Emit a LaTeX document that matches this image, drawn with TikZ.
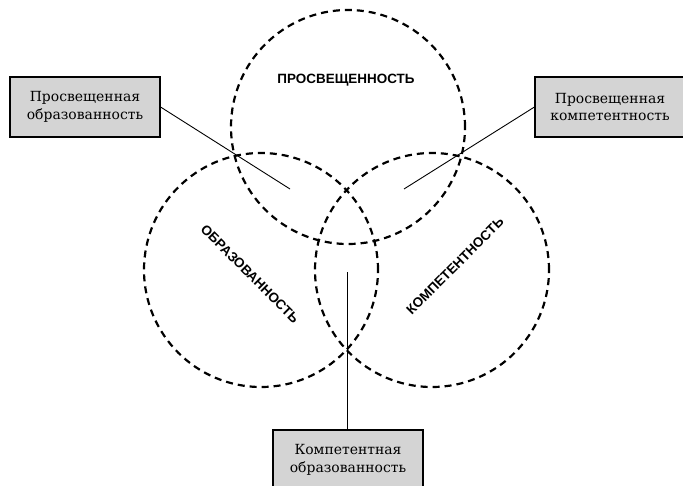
\documentclass[tikz,border=0pt]{standalone}
\usepackage{fontspec}
\setmainfont{DejaVu Serif}
\newfontfamily\lblfont{Liberation Sans}
\definecolor{boxgray}{HTML}{D4D4D4}
\tikzset{
  venn/.style={draw, line width=2.2pt, dash pattern=on 7bp off 5bp},
  infobox/.style={draw, line width=1.1pt, fill=boxgray, align=center, font=\fontsize{14}{18}\selectfont, minimum width=150bp, minimum height=60bp, inner sep=0pt},
  lead/.style={line width=0.9pt},
  setlbl/.style={font=\lblfont\bfseries\fontsize{13.5}{15}\selectfont}
}
\begin{document}
\begin{tikzpicture}[x=1bp,y=-1bp]
\useasboundingbox (0,0) rectangle (683,486);
\draw[venn] (348,127) circle (117bp);
\draw[venn] (261,270) circle (117bp);
\draw[venn] (432,270) circle (117bp);
\node[setlbl] (p) at (346,80) {ПРОСВЕЩЕННОСТЬ};
\node[setlbl, rotate=-45] (o) at (250,274) {ОБРАЗОВАННОСТЬ};
\node[setlbl, rotate=45] (k) at (455,266) {КОМПЕТЕНТНОСТЬ};
\node[infobox] (b1) at (85,107) {Просвещенная\\образованность};
\node[infobox] (b2) at (610,107) {Просвещенная\\компетентность};
\node[infobox] (b3) at (348,460) {Компетентная\\образованность};
\coordinate (e1) at (290,189);
\coordinate (e2) at (404,189);
\coordinate (e3) at (347,272);
\draw[lead] (b1.east) -- (e1);
\draw[lead] (b2.west) -- (e2);
\draw[lead] (b3.north -| e3) -- (e3);
\end{tikzpicture}
\end{document}
